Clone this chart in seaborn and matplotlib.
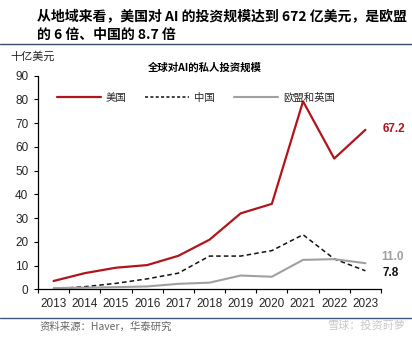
import matplotlib
matplotlib.use("Agg")
import matplotlib.pyplot as plt
import seaborn as sns
import pandas as pd
from matplotlib.lines import Line2D

years = [2013, 2014, 2015, 2016, 2017, 2018, 2019, 2020, 2021, 2022, 2023]
us = [3.5, 6.8, 9.1, 10.2, 14.1, 20.9, 32.0, 36.0, 79.2, 55.1, 67.2]
china = [0.2, 1.1, 2.5, 4.4, 6.8, 14.0, 14.0, 16.3, 23.0, 12.8, 7.8]
euuk = [0.5, 0.7, 0.9, 1.2, 2.3, 2.8, 5.8, 5.3, 12.4, 12.7, 11.0]
series_names = ["美国", "中国", "欧盟和英国"]
yticks = [0, 10, 20, 30, 40, 50, 60, 70, 80, 90]

sns.set_theme(style="white")
plt.rcParams['font.family'] = ['Liberation Sans', 'Noto Sans CJK SC', 'DejaVu Sans']
cjk = ['Noto Sans CJK SC', 'DejaVu Sans']

df = pd.DataFrame({
    "year": years * 3,
    "value": us + china + euuk,
    "series": [series_names[0]] * 11 + [series_names[1]] * 11 + [series_names[2]] * 11,
})
df["pos"] = df["year"] - years[0]

fig = plt.figure(figsize=(4.12, 3.39), dpi=100)
ax = fig.add_axes([38/412, 1-289.3/339, (381-38)/412, (289.3-75.7)/339])

colors = {"美国": "#B0151C", "中国": "#111111", "欧盟和英国": "#A0A0A0"}
widths = {"美国": 1.6, "中国": 1.1, "欧盟和英国": 1.5}
for name in series_names:
    sub = df[df["series"] == name]
    sns.lineplot(data=sub, x="pos", y="value", ax=ax, color=colors[name],
                 linewidth=widths[name], linestyle=(0, (3, 2)) if name == "中国" else "-",
                 legend=False)

ax.set_xlim(-0.5, len(years) - 0.5)
ax.set_ylim(0, 90)
ax.set_yticks(yticks)
ax.set_yticklabels([str(t) for t in yticks], fontsize=8.5)
ax.set_xticks(range(len(years)))
ax.set_xticklabels([str(y) for y in years], fontsize=8.5)
ax.set_xticks([i - 0.5 for i in range(len(years) + 1)], minor=True)
ax.tick_params(axis='x', which='major', length=0, pad=6)
ax.tick_params(axis='x', which='minor', length=3, width=0.8, color='black', direction='out', bottom=True)
ax.tick_params(axis='y', which='major', length=3, width=0.8, color='black', direction='out', left=True, pad=4)
ax.set_xlabel("")
ax.set_ylabel("")
for s in ["top", "right"]:
    ax.spines[s].set_visible(False)
for s in ["left", "bottom"]:
    ax.spines[s].set_color("black")
    ax.spines[s].set_linewidth(0.9)

# Value labels
ax.text(len(years) - 0.5 + 0.05, us[-1] + 0.5, f"{us[-1]:.1f}", color="#B0151C",
        fontsize=8.5, fontweight="bold", ha="left", va="center")
ax.text(len(years) - 0.5 + 0.02, euuk[-1] + 2.5, f"{euuk[-1]:.1f}", color="#A0A0A0",
        fontsize=8.5, fontweight="bold", ha="left", va="center")
ax.text(len(years) - 0.5 + 0.05, china[-1] - 0.8, f"{china[-1]:.1f}", color="#111111",
        fontsize=8.5, fontweight="bold", ha="left", va="center")

# Legend
handles = [Line2D([0], [0], color=colors[n], lw=widths[n],
                  linestyle=(0, (2, 1.5)) if n == "中国" else "-") for n in series_names]
leg = ax.legend(handles, series_names, loc="upper center", bbox_to_anchor=(0.46, 0.965),
                ncol=3, frameon=False, prop={'family': cjk, 'size': 7.5},
                handlelength=4.2, columnspacing=1.8, handletextpad=0.5)

# Titles and texts
fig.text(37/412, 1-16/339, "从地域来看，美国对 AI 的投资规模达到 672 亿美元，是欧盟",
         family=cjk, fontsize=10, fontweight="bold", ha="left", va="center", color="black")
fig.text(37/412, 1-35/339, "的 6 倍、中国的 8.7 倍",
         family=cjk, fontsize=10, fontweight="bold", ha="left", va="center", color="black")
fig.add_artist(Line2D([0, 1], [1-43.5/339, 1-43.5/339], color="#3A4E6B", lw=1.0))
fig.text(205/412, 1-68/339, "全球对AI的私人投资规模", family=cjk, fontsize=7.5,
         fontweight="bold", ha="center", va="center", color="black")
fig.text(10/412, 1-57/339, "十亿美元", family=cjk, fontsize=8, ha="left", va="center", color="#222222")
fig.add_artist(Line2D([0, 1], [1-318/339, 1-318/339], color="#3A5A80", lw=1.0))
fig.text(40/412, 1-327/339, "资料来源：Haver，华泰研究", family=cjk, fontsize=7.5,
         ha="left", va="center", color="#666666")
fig.text(405/412, 1-326/339, "雪球：投资莳萝", family=cjk, fontsize=8,
         ha="right", va="center", color="#C8C8C8")

fig.savefig("out.png", dpi=100)
